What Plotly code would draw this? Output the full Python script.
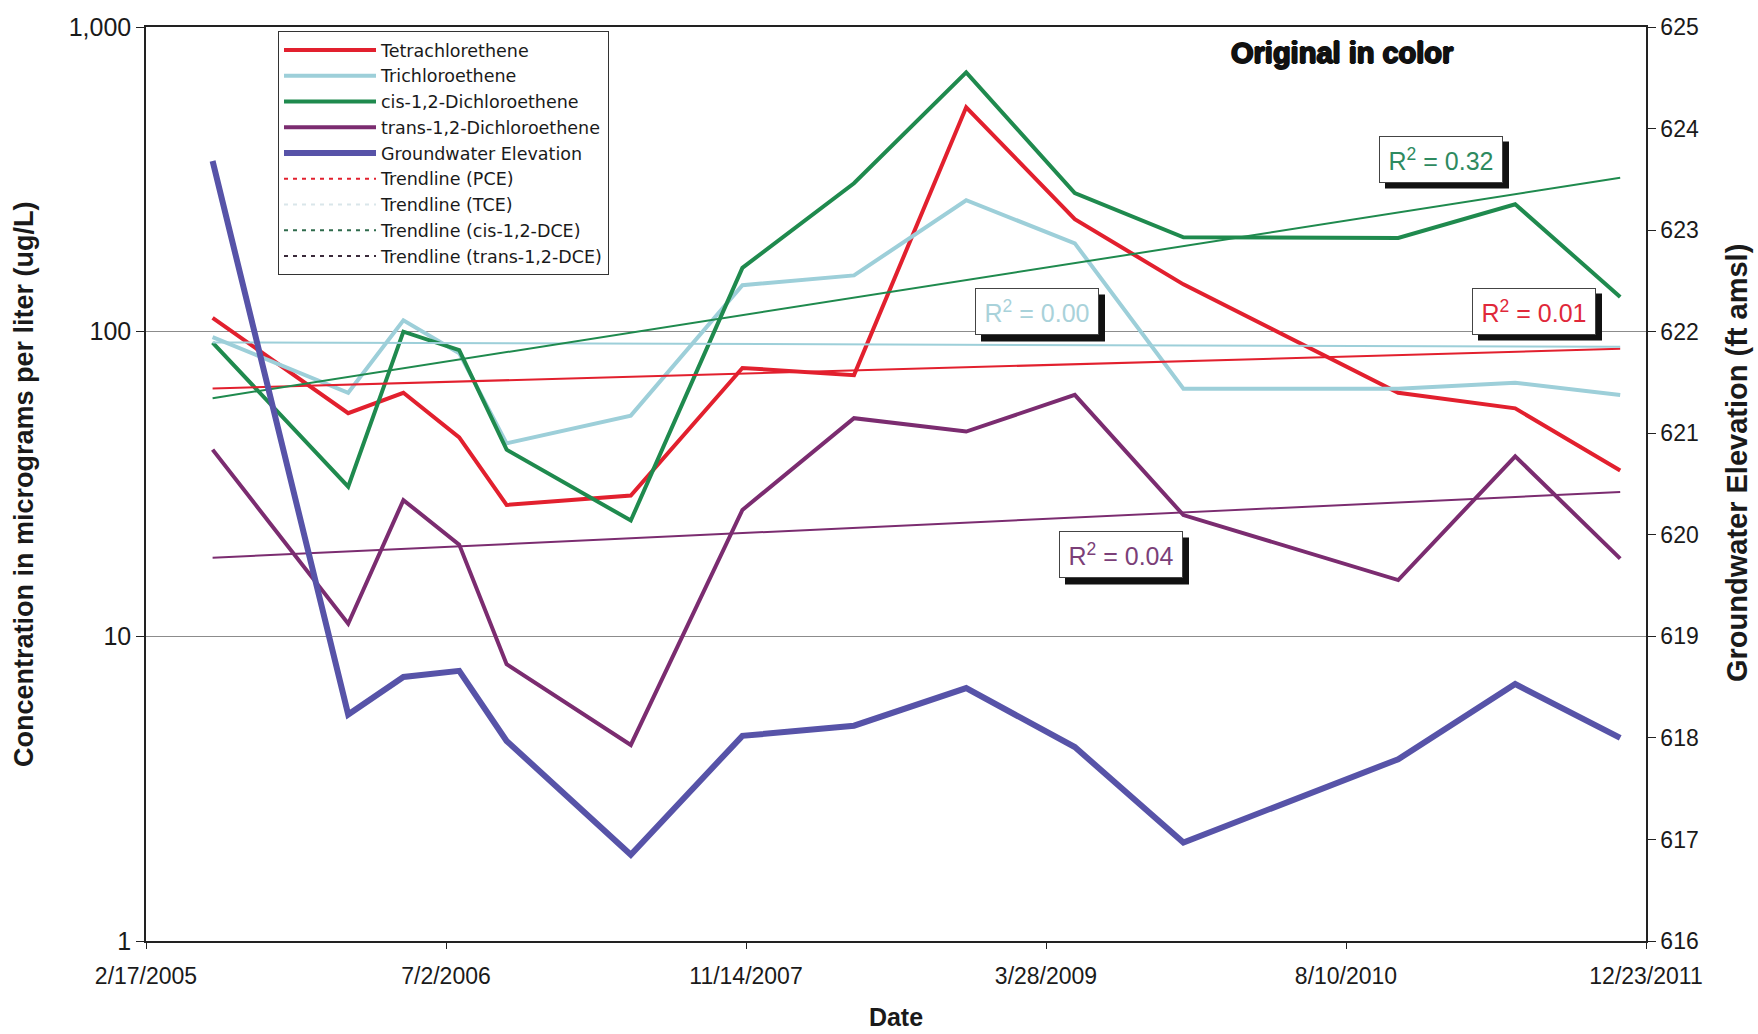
import numpy as np
import pandas as pd
import plotly.graph_objects as go

# ---- monitoring data -------------------------------------------------------
sample_dates = ["2005-06-08", "2006-01-20", "2006-04-22", "2006-07-24", "2006-10-11",
                "2007-05-06", "2007-11-08", "2008-05-12", "2008-11-15", "2009-05-15",
                "2009-11-12", "2010-11-05", "2011-05-19", "2011-11-10"]

pce = [111, 54, 63, 45, 27, 29, 76, 72, 545, 234, 143, 63, 56, 35]
tce = [96, 63, 109, 85, 43, 53, 142, 153, 270, 195, 65, 65, 68, 62]
cis_dce = [92, 31, 100, 87, 41, 24, 162, 307, 710, 285, 204, 203, 262, 130]
trans_dce = [41, 11, 28, 20, 8.1, 4.4, 26, 52, 47, 62, 25, 15.3, 39, 18]
gw_elev = [623.68, 618.23, 618.60, 618.66, 617.97, 616.85, 618.02, 618.12,
           618.49, 617.91, 616.97, 617.79, 618.53, 618.00]

series_names = ["Tetrachlorethene", "Trichloroethene",
                "cis-1,2-Dichloroethene", "trans-1,2-Dichloroethene"]
trend_names = ["Trendline (PCE)", "Trendline (TCE)",
               "Trendline (cis-1,2-DCE)", "Trendline (trans-1,2-DCE)"]
r2_text = ["0.01", "0.00", "0.32", "0.04"]

x_tick_dates = ["2005-02-17", "2006-07-02", "2007-11-14",
                "2009-03-28", "2010-08-10", "2011-12-23"]
x_tick_text = ["2/17/2005", "7/2/2006", "11/14/2007",
               "3/28/2009", "8/10/2010", "12/23/2011"]
conc_ticks = [1, 10, 100, 1000]
conc_tick_text = ["1", "10", "100", "1,000"]
elev_ticks = [616, 617, 618, 619, 620, 621, 622, 623, 624, 625]

# ---- styling ---------------------------------------------------------------
FONT = "Liberation Sans, Arial, sans-serif"
LEGEND_FONT = "DejaVu Sans, Liberation Sans, sans-serif"
colors = ["#E2202E", "#9DCFD9", "#1F8A4E", "#7B2C70"]
trend_colors = ["#E2202E", "#9DCFD9", "#1F8A4E", "#7B2C70"]
legend_trend_colors = ["#E2202E", "#D9E6EA", "#2F6B4C", "#3A2A3A"]
label_colors = ["#E0283A", "#A9D2DA", "#2E8A60", "#7B3F78"]
gw_color = "#5753A8"
INK = "#1a1a1a"

# plot-area geometry (pixels) used for paper-coordinate placement
W, H = 1758, 1034
ML, MR, MT, MB = 146, 112, 27, 93
PW, PH = W - ML - MR, H - MT - MB


def px(x):
    return (x - ML) / PW


def py(y):
    return (H - MB - y) / PH


dates = pd.to_datetime(sample_dates)
days = (dates - dates[0]).days.to_numpy(dtype=float)

fig = go.Figure()

for name, vals, col in zip(series_names, [pce, tce, cis_dce, trans_dce], colors):
    fig.add_trace(go.Scatter(x=dates, y=vals, name=name, mode="lines",
                             line=dict(color=col, width=4)))

fig.add_trace(go.Scatter(x=dates, y=gw_elev, name="Groundwater Elevation",
                         mode="lines", yaxis="y2",
                         line=dict(color=gw_color, width=6)))

# exponential trendlines (straight on the log axis)
for name, vals, col in zip(trend_names, [pce, tce, cis_dce, trans_dce], trend_colors):
    lv = np.log10(np.asarray(vals, dtype=float))
    slope, icpt = np.polyfit(days, lv, 1)
    ends = np.array([days[0], days[-1]])
    fig.add_trace(go.Scatter(x=[dates[0], dates[-1]], y=10 ** (icpt + slope * ends),
                             mode="lines", showlegend=False, hoverinfo="skip",
                             line=dict(color=col, width=2)))

# legend entries for the trendlines
for name, col in zip(trend_names, legend_trend_colors):
    fig.add_trace(go.Scatter(x=[None], y=[None], name=name, mode="lines",
                             line=dict(color=col, width=2, dash="4px,5px")))

# R² labels with drop shadows
label_centers = [(1534, 311), (1037, 312), (1441, 159), (1121, 555)]
BW, BH, SH = 124, 47, 6
shapes = []
annotations = []
for (cx, cy), txt, col in zip(label_centers, r2_text, label_colors):
    shapes.append(dict(type="rect", xref="paper", yref="paper", layer="above",
                       x0=px(cx - BW / 2 + SH), x1=px(cx + BW / 2 + SH),
                       y0=py(cy + BH / 2 + SH), y1=py(cy - BH / 2 + SH),
                       fillcolor="#111111", line=dict(width=0)))
    annotations.append(dict(xref="paper", yref="paper", x=px(cx), y=py(cy),
                            xanchor="center", yanchor="middle", showarrow=False,
                            text=f"R<sup>2</sup> = {txt}", width=BW - 2, height=BH - 2,
                            bgcolor="white", bordercolor="#444444", borderwidth=1,
                            borderpad=0, font=dict(family=FONT, size=25, color=col)))

annotations.append(dict(xref="paper", yref="paper", x=px(1342), y=py(53),
                        xanchor="center", yanchor="middle", showarrow=False,
                        text="<b>Original in color</b>",
                        font=dict(family=FONT, size=29, color="#111111",
                                  shadow="1px 0px 0px #111, -1px 0px 0px #111, "
                                         "0px 1px 0px #111, 0px -1px 0px #111")))

# vertical axis titles
annotations.append(dict(xref="paper", yref="paper", x=px(24), y=py(484),
                        xanchor="center", yanchor="middle", showarrow=False,
                        textangle=-90,
                        text="<b>Concentration in micrograms per liter (ug/L)</b>",
                        font=dict(family=FONT, size=27, color=INK)))
annotations.append(dict(xref="paper", yref="paper", x=px(1737), y=py(463),
                        xanchor="center", yanchor="middle", showarrow=False,
                        textangle=-90,
                        text="<b>Groundwater Elevation (ft amsl)</b>",
                        font=dict(family=FONT, size=29, color=INK)))

tick_font = dict(family=FONT, size=23, color=INK)

fig.update_layout(
    width=W, height=H,
    margin=dict(l=ML, r=MR, t=MT, b=MB, autoexpand=False),
    paper_bgcolor="white", plot_bgcolor="white",
    font=dict(family=FONT, color=INK),
    xaxis=dict(type="date", range=[x_tick_dates[0], x_tick_dates[-1]],
               tickvals=x_tick_dates, ticktext=x_tick_text, tickfont=tick_font,
               ticks="outside", ticklen=6, tickcolor="#222", ticklabelstandoff=8,
               showline=True, linecolor="#222", linewidth=1.5, mirror=True,
               showgrid=False, zeroline=False,
               title=dict(text="Date", standoff=20,
                          font=dict(family=FONT, size=25, color=INK, weight="bold"))),
    yaxis=dict(type="log", range=[0, 3], tickvals=conc_ticks, ticktext=conc_tick_text,
               tickfont=dict(family=FONT, size=25, color=INK),
               ticks="outside", ticklen=8, tickcolor="#222",
               showline=True, linecolor="#222", linewidth=1.5,
               showgrid=True, gridcolor="#8c8c8c", gridwidth=1, zeroline=False),
    yaxis2=dict(overlaying="y", side="right", range=[616, 625], tickvals=elev_ticks,
                tickfont=tick_font, ticks="outside", ticklen=8, tickcolor="#222",
                showline=True, linecolor="#222", linewidth=1.5,
                showgrid=False, zeroline=False),
    legend=dict(x=px(278), y=py(31), xanchor="left", yanchor="top",
                bgcolor="white", bordercolor="#333333", borderwidth=1,
                font=dict(family=LEGEND_FONT, size=17.5, color=INK),
                itemwidth=92, tracegroupgap=0),
    shapes=shapes,
    annotations=annotations,
    showlegend=True,
)

fig.write_html("out.html")
